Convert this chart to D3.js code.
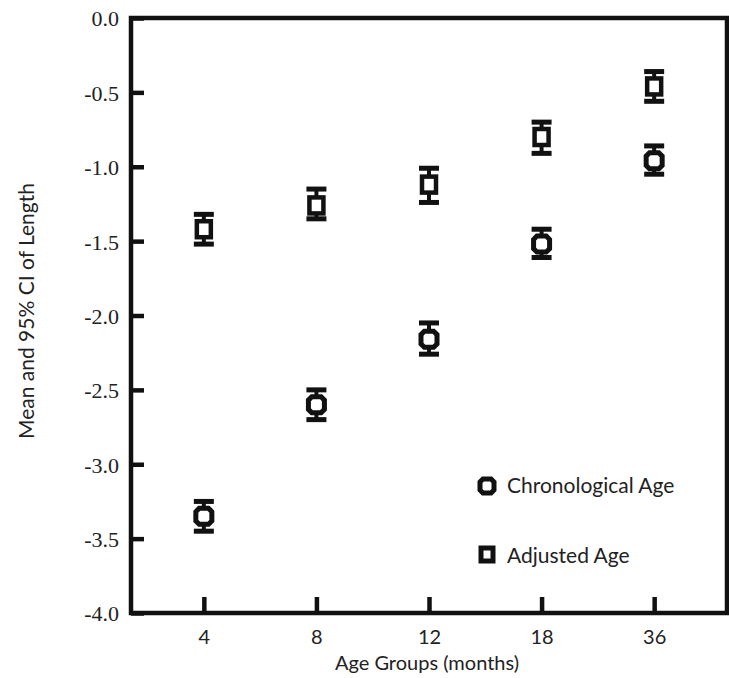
<!DOCTYPE html>
<html><head><meta charset="utf-8">
<script src="https://cdn.jsdelivr.net/npm/d3@7"></script>
<style>body{margin:0;background:#fff}svg{display:block}</style>
</head><body><svg id="c" width="729" height="678"></svg>
<script>
const categories = ["4","8","12","18","36"];
const chronMean  = [-3.35, -2.60, -2.16, -1.52, -0.96];
const chronLow   = [-3.45, -2.70, -2.26, -1.61, -1.05];
const chronHigh  = [-3.25, -2.50, -2.05, -1.42, -0.86];
const adjMean    = [-1.42, -1.26, -1.12, -0.80, -0.46];
const adjLow     = [-1.52, -1.35, -1.24, -0.91, -0.56];
const adjHigh    = [-1.32, -1.15, -1.01, -0.70, -0.36];
const yTicks = [0,-0.5,-1,-1.5,-2,-2.5,-3,-3.5,-4];
const legendLabels = ["Chronological Age","Adjusted Age"];

const svg = d3.select("#c");
const L=131, R=727, T=18, B=613;
const x = d3.scalePoint().domain(categories).range([L,R]).padding(0.647);
const y = d3.scaleLinear().domain([-4,0]).range([B,T]);
const textFont = "Lato, 'Open Sans', sans-serif";
const numFont = "'Liberation Serif', 'DejaVu Serif', serif";
const fmt = v => d3.format(".1f")(v).replace("\u2212","-");

// frame
svg.append("path").attr("d",`M${L},${B}V${T}H${R}V${B}Z`)
  .attr("fill","none").attr("stroke","#111").attr("stroke-width",4.5);

// y axis
const ya = svg.append("g").attr("transform",`translate(${L},0)`)
  .call(d3.axisRight(y).tickValues(yTicks).tickSize(13).tickFormat(fmt));
ya.select(".domain").remove();
ya.selectAll(".tick line").attr("stroke","#111").attr("stroke-width",4.5);
ya.selectAll(".tick text").attr("x",-12).attr("dy","0.36em").attr("text-anchor","end")
  .attr("font-family",numFont).attr("font-size",22).attr("fill","#222");

// x axis
const xa = svg.append("g").attr("transform",`translate(0,${B})`)
  .call(d3.axisTop(x).tickSize(16));
xa.select(".domain").remove();
xa.selectAll(".tick line").attr("stroke","#111").attr("stroke-width",4.5);
xa.selectAll(".tick text").attr("y",31).attr("dy",0)
  .attr("font-family",textFont).attr("font-size",20).attr("fill","#222");

// titles
svg.append("text").attr("x",(L+R)/2-2).attr("y",670).attr("text-anchor","middle")
  .attr("font-family",textFont).attr("font-size",20).attr("fill","#222").text("Age Groups (months)");
svg.append("text").attr("transform",`translate(34,311)rotate(-90)`).attr("text-anchor","middle")
  .attr("font-family",textFont).attr("font-size",21).attr("fill","#222").text("Mean and 95% CI of Length");

function octa(s){ // octagon path centered at 0
  const r=s/2, c=r*0.42;
  return `M${-r+c},${-r}H${r-c}L${r},${-r+c}V${r-c}L${r-c},${r}H${-r+c}L${-r},${r-c}V${-r+c}Z`;
}
function drawSeries(mean, lo, hi, shape){
  const g = svg.append("g");
  categories.forEach((c,i)=>{
    const cx=x(c);
    g.append("line").attr("x1",cx).attr("x2",cx).attr("y1",y(lo[i])).attr("y2",y(hi[i]))
      .attr("stroke","#111").attr("stroke-width",4);
    [lo[i],hi[i]].forEach(v=>g.append("line").attr("x1",cx-10).attr("x2",cx+10)
      .attr("y1",y(v)).attr("y2",y(v)).attr("stroke","#111").attr("stroke-width",5));
    if(shape==="oct"){
      g.append("path").attr("d",octa(16)).attr("transform",`translate(${cx},${y(mean[i])})`)
        .attr("fill","#fff").attr("stroke","#111").attr("stroke-width",5);
    } else {
      g.append("rect").attr("x",cx-7).attr("y",y(mean[i])-8).attr("width",14).attr("height",16)
        .attr("fill","#fff").attr("stroke","#111").attr("stroke-width",4.5);
    }
  });
}
drawSeries(chronMean, chronLow, chronHigh, "oct");
drawSeries(adjMean, adjLow, adjHigh, "sq");

// legend
const lg = svg.append("g");
lg.append("path").attr("d",octa(14)).attr("transform","translate(487,486)")
  .attr("fill","#fff").attr("stroke","#111").attr("stroke-width",5);
lg.append("rect").attr("x",481).attr("y",548).attr("width",12).attr("height",13)
  .attr("fill","#fff").attr("stroke","#111").attr("stroke-width",5);
lg.selectAll("text").data(legendLabels).join("text")
  .attr("x",507).attr("y",(d,i)=>493+i*70)
  .attr("font-family",textFont).attr("font-size",21).attr("fill","#222").text(d=>d);
</script></body></html>
